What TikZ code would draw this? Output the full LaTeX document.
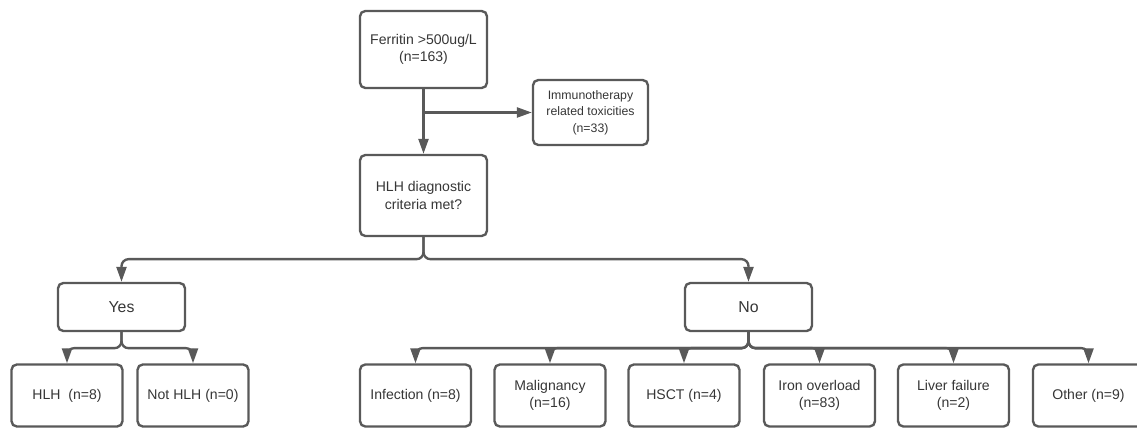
\documentclass[tikz,border=0pt]{standalone}
\usepackage{fontspec}
\setmainfont{Liberation Sans}
\usetikzlibrary{arrows.meta}
\definecolor{linegray}{HTML}{595959}
\definecolor{textgray}{HTML}{363636}

\begin{document}
\begin{tikzpicture}[x = 0.02cm, y = -0.02cm,
		box/.style = {draw = linegray, line width = 1.35pt, rounded corners = 3pt, align = center, text = textgray,
			font = \fontsize{8}{9.8}\selectfont, minimum width = 2.22cm, minimum height = 1.24cm, inner sep = 1pt},
		link/.style = {draw = linegray, line width = 1.35pt, rounded corners = 4pt, -{Triangle[length = 0.3cm, width = 0.2cm]}}]
		\useasboundingbox (0, 0) rectangle (1137, 429);
		% top part
		\node[box, minimum width = 2.54cm, minimum height = 1.54cm] (ferritin) at (423.5, 49.5) {Ferritin >500ug/L\\(n=163)};
		\node[box, minimum width = 2.3cm, minimum height = 1.3cm, font = \fontsize{7}{9.4}\selectfont] (immuno) at (590.5, 112.5) {Immunotherapy\\related toxicities\\(n=33)};
		\node[box, minimum width = 2.54cm, minimum height = 1.62cm] (criteria) at (423.5, 195.5) {HLH diagnostic\\criteria met?};
		\coordinate (split) at (ferritin.south |- immuno.west);
		\draw[link] (ferritin) -- (criteria);
		\draw[link] (split) -- (immuno);
		% yes / no
		\node[box, minimum width = 2.54cm, minimum height = 0.96cm, font = \fontsize{9}{11}\selectfont] (yes) at (121.5, 307) {Yes};
		\node[box, minimum width = 2.54cm, minimum height = 0.96cm, font = \fontsize{9}{11}\selectfont] (no) at (748.5, 307) {No};
		\draw[link] (criteria.south) -- ++(0, 22) -| (yes.north);
		\draw[link] (criteria.south) -- ++(0, 22) -| (no.north);
		% outcomes
		\node[box] (hlh) at (67, 395.5) {HLH\ \ (n=8)};
		\node[box] (nothlh) at (193, 395.5) {Not HLH (n=0)};
		\node[box] (infection) at (415.5, 395.5) {Infection (n=8)};
		\node[box] (malignancy) at (550, 395.5) {Malignancy\\(n=16)};
		\node[box] (hsct) at (684, 395.5) {HSCT (n=4)};
		\node[box] (iron) at (819.5, 395.5) {Iron overload\\(n=83)};
		\node[box] (liver) at (953.5, 395.5) {Liver failure\\(n=2)};
		\node[box] (other) at (1088.5, 395.5) {Other (n=9)};
		\foreach \child in {hlh, nothlh}
			\draw[link] (yes.south) -- ++(0, 16) -| (\child.north);
		\foreach \child in {infection, malignancy, hsct, iron, liver, other}
			\draw[link] (no.south) -- ++(0, 16) -| (\child.north);
	\end{tikzpicture}
\end{document}
